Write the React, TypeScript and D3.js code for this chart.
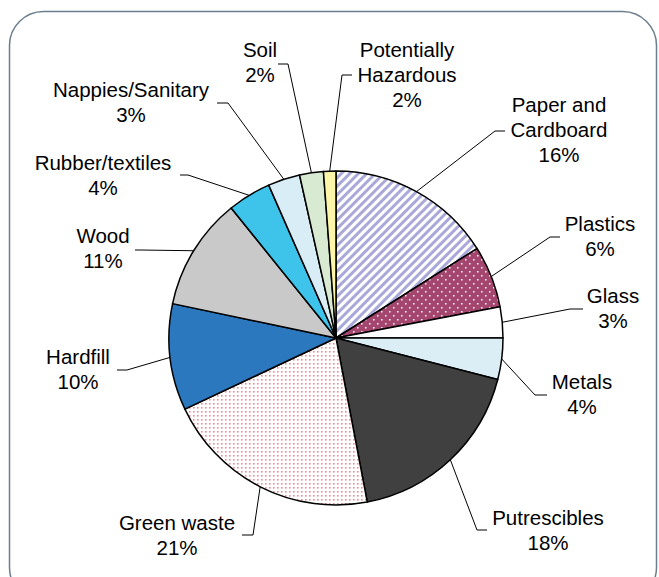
import React from "react";
import * as d3 from "d3";

// ---- data ----
const categories = [
  "Paper and Cardboard",
  "Plastics",
  "Glass",
  "Metals",
  "Putrescibles",
  "Green waste",
  "Hardfill",
  "Wood",
  "Rubber/textiles",
  "Nappies/Sanitary",
  "Soil",
  "Potentially Hazardous",
];
const sliceValues = [16, 6, 3, 4, 18, 21, 10.3, 10.9, 4.2, 3.1, 2.3, 1.2];
const percentLabels = ["16%", "6%", "3%", "4%", "18%", "21%", "10%", "11%", "4%", "3%", "2%", "2%"];
const nameLines = [
  ["Paper and", "Cardboard"],
  ["Plastics"],
  ["Glass"],
  ["Metals"],
  ["Putrescibles"],
  ["Green waste"],
  ["Hardfill"],
  ["Wood"],
  ["Rubber/textiles"],
  ["Nappies/Sanitary"],
  ["Soil"],
  ["Potentially", "Hazardous"],
];

// ---- styles / layout ----
const fills = [
  "url(#pStripes)",
  "url(#pPlastic)",
  "#ffffff",
  "#dbeef6",
  "#404040",
  "url(#pGreen)",
  "#2b78bf",
  "#c9c9c9",
  "#3ec3eb",
  "#d8edf6",
  "#d9ead3",
  "#fbf5a9",
];

// text center x, first baseline y, elbow point, end point
const labelLayout = [
  { tx: 559, ty: 112, ex: 495, ey: 131, hx: 505 },
  { tx: 600, ty: 231, ex: 550, ey: 237, hx: 560 },
  { tx: 613, ty: 303, ex: 570, ey: 309, hx: 583 },
  { tx: 582, ty: 389, ex: 535, ey: 395, hx: 547 },
  { tx: 548, ty: 525, ex: 477, ey: 530, hx: 487 },
  { tx: 177, ty: 530, ex: 253, ey: 535, hx: 242 },
  { tx: 78, ty: 364, ex: 127, ey: 370, hx: 117 },
  { tx: 103, ty: 243, ex: 140, ey: 250, hx: 135 },
  { tx: 103, ty: 170, ex: 188, ey: 175, hx: 180 },
  { tx: 131, ty: 97, ex: 228, ey: 103, hx: 217 },
  { tx: 260, ty: 57, ex: 288, ey: 64, hx: 278 },
  { tx: 407, ty: 57, ex: 342, ey: 75, hx: 352 },
];

const W = 659;
const H = 577;
const cx = 336;
const cy = 338;
const R = 167;
const lineH = 24.8;

export default function App() {
  const items = categories.map((c, i) => ({ name: c, value: sliceValues[i], i }));
  const pie = d3
    .pie<any>()
    .sort(null)
    .value((d) => d.value)
    .startAngle(0)
    .endAngle(2 * Math.PI);
  const arcs = pie(items);
  const arc = d3.arc<any>().innerRadius(0).outerRadius(R);

  return (
    <svg
      width={W}
      height={H}
      style={{ position: "absolute", left: 0, top: 0, background: "#fff" }}
      fontFamily="'Liberation Sans', Arial, sans-serif"
    >
      <defs>
        <pattern id="pStripes" patternUnits="userSpaceOnUse" width={6} height={6} patternTransform="rotate(45)">
          <rect width={6} height={6} fill="#ffffff" />
          <rect width={3} height={6} fill="#a9a9d9" />
        </pattern>
        <pattern id="pPlastic" patternUnits="userSpaceOnUse" width={8} height={8}>
          <rect width={8} height={8} fill="#a5466f" />
          <rect x={1} y={1} width={1.5} height={1.5} fill="#ffffff" />
          <rect x={5} y={5} width={1.5} height={1.5} fill="#ffffff" />
        </pattern>
        <pattern id="pGreen" patternUnits="userSpaceOnUse" width={4} height={4}>
          <rect width={4} height={4} fill="#ffffff" />
          <rect x={1} y={1} width={1.6} height={1.6} fill="#ef8a91" />
        </pattern>
      </defs>

      <rect x={9.5} y={11.5} width={647} height={590} rx={34} fill="none" stroke="#6b7e8e" strokeWidth={1.5} />

      <g transform={`translate(${cx},${cy})`}>
        {arcs.map((a, i) => (
          <path key={i} d={arc(a) as string} fill={fills[i]} stroke="#000" strokeWidth={1.5} strokeLinejoin="round" />
        ))}
      </g>

      {arcs.map((a, i) => {
        const mid = (a.startAngle + a.endAngle) / 2;
        const sx = cx + R * Math.sin(mid);
        const sy = cy - R * Math.cos(mid);
        const L = labelLayout[i];
        return (
          <polyline
            key={"l" + i}
            points={`${sx},${sy} ${L.ex},${L.ey} ${L.hx},${L.ey}`}
            fill="none"
            stroke="#000"
            strokeWidth={1}
          />
        );
      })}

      {categories.map((c, i) => {
        const L = labelLayout[i];
        const lines = [...nameLines[i], percentLabels[i]];
        return (
          <text key={"t" + i} textAnchor="middle" fontSize={20.5} fill="#000">
            {lines.map((s, k) => (
              <tspan key={k} x={L.tx} y={L.ty + k * lineH}>
                {s}
              </tspan>
            ))}
          </text>
        );
      })}
    </svg>
  );
}
